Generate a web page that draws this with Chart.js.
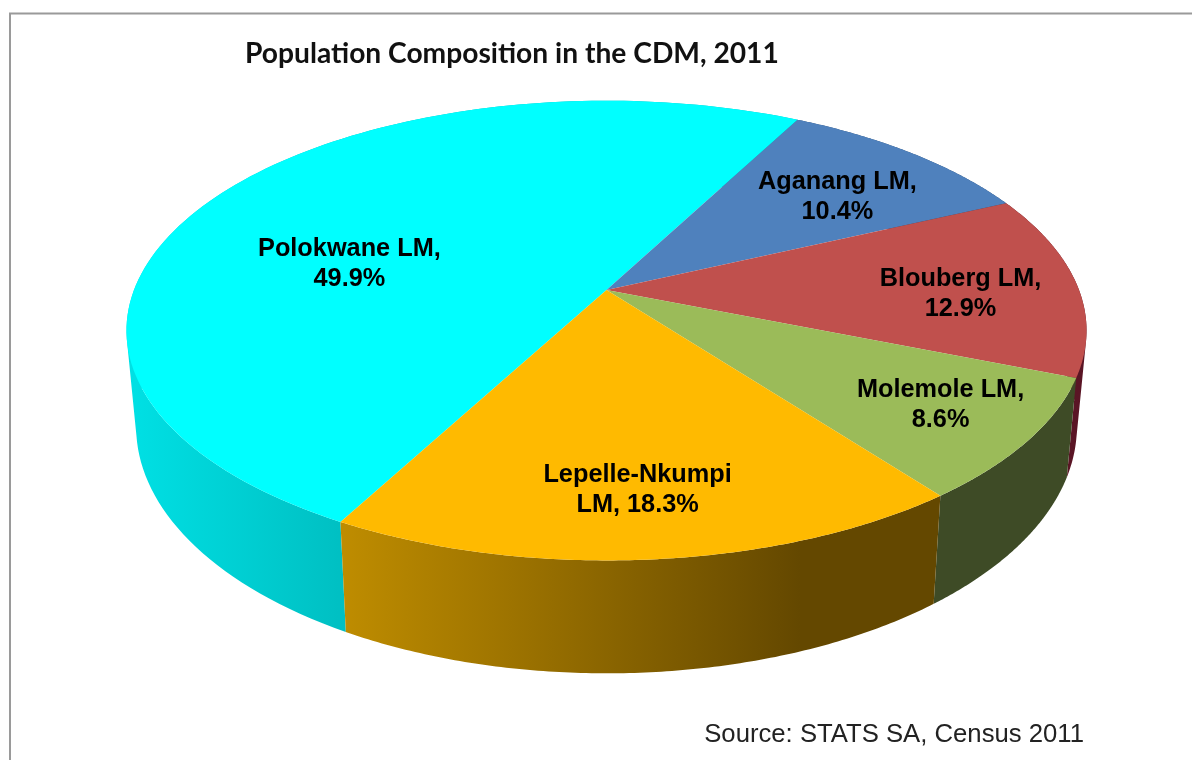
<!DOCTYPE html>
<html><head><meta charset="utf-8">
<script src="https://cdn.jsdelivr.net/npm/chart.js@4/dist/chart.umd.js"></script>
<style>html,body{margin:0;padding:0;background:#fff}canvas{display:block}</style>
</head><body><canvas id="c" width="1192" height="760"></canvas>
<script>
const categories = ['Polokwane LM','Aganang LM','Blouberg LM','Molemole LM','Lepelle-Nkumpi LM'];
const shares = [49.9,10.4,12.9,8.6,18.3];
const labelLines = [['Polokwane LM,','49.9%'],['Aganang LM,','10.4%'],['Blouberg LM,','12.9%'],['Molemole LM,','8.6%'],['Lepelle-Nkumpi','LM, 18.3%']];
const topColors = ['#00FFFF','#4F81BD','#C0504D','#9BBB59','#FFBA00'];
const wallStops = [['#00E0E4','#00BFC2'],['#2A4A70','#2A4A70'],['#5A1525','#5A1525'],['#3E4B26','#3E4B26'],['#BE8C00','#644800']];
const wallRanges = [[130,345],[800,1000],[1000,1090],[935,1075],[345,800]];
const labelPlace = [[0.6,-19,34],[0.6,39,-7],[0.75,1,8],[0.75,27,5],[0.75,-1,8]];

// perspective projection of the pie disc (unit circle -> page)
const K=-0.1765, CX=606.5, AX_TOP=472.5, AX_BOT=463, AY=171.5, BY_TOP=290, BY_BOT=383;
const proj=(u,v,ax,by)=>{const d=1+K*v;return [CX+ax*u/d,(AY*v+by)/d];};
const topRim=(a,r=1)=>proj(r*Math.cos(a),r*Math.sin(a),AX_TOP,BY_TOP);
const botRim=(a)=>proj(Math.cos(a),Math.sin(a),AX_BOT,BY_BOT);

class PerspectiveArc extends Chart.ArcElement{
  static id='perspectiveArc';
  static defaults=Chart.ArcElement.defaults;
  static defaultRoutes=Chart.ArcElement.defaultRoutes;
  draw(ctx){
    ctx.save();
    ctx.beginPath();
    ctx.moveTo(...topRim(0,0));
    for(let i=0;i<=120;i++){
      ctx.lineTo(...topRim(this.startAngle+(this.endAngle-this.startAngle)*i/120));
    }
    ctx.closePath();
    ctx.fillStyle=this.options.backgroundColor;
    ctx.fill();
    ctx.restore();
  }
}
Chart.register(PerspectiveArc);
Chart.defaults.datasets.pie.dataElementType='perspectiveArc';

const pie3dPlugin={
  id:'pie3d',
  beforeDraw(chart){
    const {ctx,width,height}=chart;
    ctx.save();
    ctx.fillStyle='#fff';ctx.fillRect(0,0,width,height);
    ctx.strokeStyle='#9a9a9a';ctx.lineWidth=2;
    ctx.beginPath();ctx.moveTo(10,760);ctx.lineTo(10,13.5);ctx.lineTo(1192,13.5);ctx.stroke();
    ctx.restore();
  },
  beforeDatasetsDraw(chart){
    const {ctx}=chart;
    ctx.save();
    chart.getDatasetMeta(0).data.forEach((el,i)=>{
      const n=120,s=el.startAngle,e=el.endAngle;
      const g=ctx.createLinearGradient(wallRanges[i][0],0,wallRanges[i][1],0);
      g.addColorStop(0,wallStops[i][0]);g.addColorStop(1,wallStops[i][1]);
      ctx.beginPath();
      for(let k=0;k<n;k++){
        const a0=s+(e-s)*k/n,a1=s+(e-s)*(k+1)/n;
        let q=[topRim(a0),topRim(a1),botRim(a1),botRim(a0)];
        let area=0;
        q.forEach((p,j)=>{const o=q[(j+1)%4];area+=p[0]*o[1]-o[0]*p[1];});
        if(area<0) q=q.reverse();
        ctx.moveTo(...q[0]);ctx.lineTo(...q[1]);ctx.lineTo(...q[2]);ctx.lineTo(...q[3]);ctx.closePath();
      }
      ctx.fillStyle=g;ctx.fill('nonzero');
    });
    ctx.restore();
  },
  afterDatasetsDraw(chart){
    const {ctx}=chart;
    ctx.save();
    ctx.fillStyle='#000';
    ctx.font='bold 25.3px "Liberation Sans"';
    ctx.textAlign='center';ctx.textBaseline='middle';
    chart.getDatasetMeta(0).data.forEach((el,i)=>{
      const [r,dx,dy]=labelPlace[i];
      const [x,y]=topRim((el.startAngle+el.endAngle)/2,r);
      labelLines[i].forEach((t,j)=>ctx.fillText(t,x+dx,y+dy+(j-0.5)*30));
    });
    ctx.restore();
  }
};

new Chart(document.getElementById('c'),{
  type:'pie',
  data:{labels:categories,datasets:[{data:shares,backgroundColor:topColors,borderWidth:0}]},
  options:{
    responsive:false,animation:false,rotation:208.4,
    layout:{padding:{left:245,right:108,top:36,bottom:10}},
    plugins:{
      legend:{display:false},tooltip:{enabled:false},
      title:{display:true,text:'Population Composition in the CDM, 2011',align:'start',color:'#111',
        font:{family:'Lato',weight:'bold',size:28.2},padding:{top:1,bottom:10}},
      subtitle:{display:true,position:'bottom',text:'Source: STATS SA, Census 2011',align:'end',color:'#222',
        font:{family:'Liberation Sans',weight:'normal',size:25.7},padding:{top:4,bottom:0}}
    }
  },
  plugins:[pie3dPlugin]
});
</script></body></html>
